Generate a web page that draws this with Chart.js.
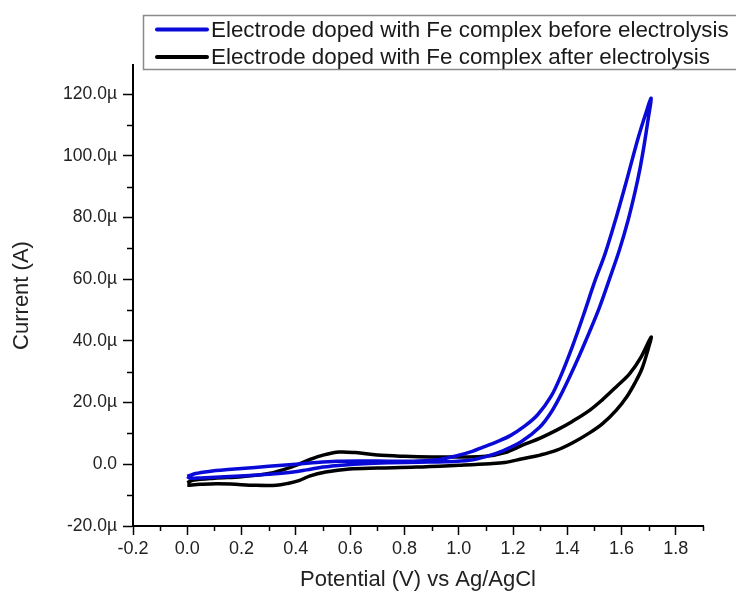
<!DOCTYPE html>
<html>
<head>
<meta charset="utf-8">
<script src="https://cdn.jsdelivr.net/npm/chart.js@4.4.1/dist/chart.umd.min.js"></script>
<style>
  html, body { margin: 0; padding: 0; background: #fff; }
  #wrap { width: 736px; height: 595px; position: relative; }
</style>
</head>
<body>
<div id="wrap"><canvas id="c"></canvas></div>
<script>
// ---- Data (potential in V, current in µA) ----
const seriesLabels = [
  'Electrode doped with Fe complex before electrolysis',
  'Electrode doped with Fe complex after electrolysis'
];
const blueV = [0.00, 0.03, 0.08, 0.15, 0.25, 0.35, 0.45, 0.55, 0.65, 0.75, 0.85, 0.93, 0.99, 1.05, 1.09, 1.14, 1.19, 1.24, 1.29, 1.34, 1.38, 1.42, 1.46, 1.50, 1.54, 1.58, 1.62, 1.66, 1.69, 1.709,
               1.698, 1.684, 1.668, 1.650, 1.625, 1.592, 1.555, 1.519, 1.482, 1.433, 1.382, 1.34, 1.298, 1.23, 1.16, 1.10, 1.04, 0.95, 0.85, 0.75, 0.65, 0.58, 0.50, 0.44, 0.39, 0.30, 0.23, 0.12, 0.05, 0.01, 0.00];
const blueI = [-3.9, -3.0, -2.3, -1.7, -1.0, -0.3, 0.4, 1.0, 1.1, 1.0, 1.1, 1.6, 2.7, 4.2, 5.6, 7.3, 9.3, 12.2, 16.0, 22.0, 29.5, 38.5, 48.5, 59.0, 68.5, 80.0, 92.5, 105.5, 114.0, 118.7,
               112.0, 104.0, 96.0, 88.5, 79.5, 69.5, 60.0, 51.0, 43.0, 33.0, 23.5, 16.8, 12.0, 7.3, 4.3, 2.5, 1.3, 0.8, 0.7, 0.5, 0.2, -0.2, -0.9, -1.8, -2.5, -3.2, -3.6, -4.1, -4.4, -4.5, -3.9];
const blackV = [0.00, 0.02, 0.10, 0.20, 0.30, 0.38, 0.45, 0.50, 0.56, 0.62, 0.70, 0.80, 0.90, 1.00, 1.10, 1.17, 1.235, 1.30, 1.359, 1.42, 1.482, 1.53, 1.58, 1.63, 1.67, 1.709,
                1.695, 1.675, 1.65, 1.62, 1.58, 1.53, 1.482, 1.42, 1.359, 1.30, 1.235, 1.17, 1.114, 1.00, 0.843, 0.70, 0.597, 0.51, 0.45, 0.414, 0.37, 0.328, 0.25, 0.16, 0.107, 0.05, 0.00];
const blackI = [-6.0, -5.2, -4.5, -4.0, -3.0, -1.0, 1.5, 3.0, 4.0, 3.8, 3.0, 2.6, 2.4, 2.4, 2.6, 3.8, 6.2, 8.5, 11.0, 14.0, 17.5, 21.0, 25.1, 29.4, 34.5, 41.3,
                36.5, 31.0, 26.5, 22.0, 17.5, 13.2, 10.2, 7.0, 4.5, 3.0, 1.8, 0.6, 0.2, -0.3, -0.9, -1.2, -1.5, -2.5, -3.8, -5.2, -6.2, -6.8, -6.8, -6.4, -6.3, -6.5, -6.8];
const xTickValues = [-0.2, 0.0, 0.2, 0.4, 0.6, 0.8, 1.0, 1.2, 1.4, 1.6, 1.8];
const yTickValues = [-20, 0, 20, 40, 60, 80, 100, 120];

const toPts = (xs, ys) => xs.map((x, i) => ({ x: x, y: ys[i] }));
const FONT = "'Liberation Sans', Arial, sans-serif";

const minorTicks = {
  id: 'minorTicks',
  afterDraw(chart) {
    const ctx = chart.ctx;
    const xs = chart.scales.x, ys = chart.scales.y;
    ctx.save();
    ctx.strokeStyle = '#000';
    ctx.lineWidth = 1.5;
    const xb = xs.top;
    for (let i = 0; i < xTickValues.length; i++) {
      const v = xTickValues[i] + 0.1;
      if (v > xs.max + 1e-9) continue;
      const p = Math.round(xs.getPixelForValue(v)) + 0.5;
      ctx.beginPath(); ctx.moveTo(p, xb); ctx.lineTo(p, xb + 5); ctx.stroke();
    }
    const yr = ys.right;
    for (let i = 0; i < yTickValues.length; i++) {
      const v = yTickValues[i] + 10;
      if (v > ys.max + 1e-9) continue;
      const p = Math.round(ys.getPixelForValue(v)) + 0.5;
      ctx.beginPath(); ctx.moveTo(yr, p); ctx.lineTo(yr - 6, p); ctx.stroke();
    }
    ctx.restore();
  }
};

const boxLegend = {
  id: 'boxLegend',
  afterDraw(chart) {
    const ctx = chart.ctx;
    ctx.save();
    ctx.strokeStyle = '#8a8a8a';
    ctx.lineWidth = 1.5;
    ctx.strokeRect(143.5, 15.5, 610, 54);
    ctx.font = '22.4px ' + FONT;
    ctx.textBaseline = 'middle';
    ctx.textAlign = 'left';
    chart.data.datasets.forEach((ds, i) => {
      const y = 29.5 + i * 27.5;
      ctx.strokeStyle = ds.borderColor;
      ctx.lineWidth = 4;
      ctx.lineCap = 'round';
      ctx.beginPath(); ctx.moveTo(157, y); ctx.lineTo(207, y); ctx.stroke();
      ctx.fillStyle = '#1a1a1a';
      ctx.fillText(ds.label, 211, y + 1);
    });
    ctx.restore();
  }
};

new Chart(document.getElementById('c'), {
  type: 'line',
  data: {
    datasets: [
      { label: seriesLabels[0], data: toPts(blueV, blueI), borderColor: '#0a0ad8', borderWidth: 3.5, pointRadius: 0, tension: 0.35, fill: false },
      { label: seriesLabels[1], data: toPts(blackV, blackI), borderColor: '#000000', borderWidth: 3.5, pointRadius: 0, tension: 0.35, fill: false }
    ]
  },
  options: {
    responsive: true,
    maintainAspectRatio: false,
    animation: false,
    devicePixelRatio: 1,
    layout: { padding: { top: 65, right: 33, left: 0, bottom: 0 } },
    plugins: { legend: { display: false }, tooltip: { enabled: false } },
    scales: {
      x: {
        type: 'linear', min: -0.2, max: 1.9,
        afterBuildTicks: s => { s.ticks = xTickValues.map(v => ({ value: v })); },
        ticks: { callback: v => (Math.abs(v) < 1e-9 ? '0.0' : Number(v).toFixed(1)), font: { size: 18, family: FONT }, color: '#222', padding: 3, maxRotation: 0, autoSkip: false },
        grid: { display: true, drawOnChartArea: false, drawTicks: true, tickLength: 9, tickWidth: 1.5, tickColor: '#000' },
        border: { display: true, color: '#000', width: 2 },
        title: { display: true, text: 'Potential (V) vs Ag/AgCl', font: { size: 22, family: FONT }, color: '#222', padding: { top: 0, bottom: 2 } },
        afterFit: s => { s.height = 69; }
      },
      y: {
        type: 'linear', min: -20, max: 129.5,
        afterBuildTicks: s => { s.ticks = yTickValues.map(v => ({ value: v })); },
        ticks: { callback: v => (v === 0 ? '0.0' : Number(v).toFixed(1) + 'µ'), font: { size: 17.5, family: FONT }, color: '#222', padding: 6, autoSkip: false },
        grid: { display: true, drawOnChartArea: false, drawTicks: true, tickLength: 10, tickWidth: 1.5, tickColor: '#000' },
        border: { display: true, color: '#000', width: 2 },
        title: { display: true, text: 'Current (A)', font: { size: 22, family: FONT }, color: '#222', padding: { top: 9, bottom: 0 } },
        afterFit: s => { s.width = 133; }
      }
    }
  },
  plugins: [minorTicks, boxLegend]
});
</script>
</body>
</html>
